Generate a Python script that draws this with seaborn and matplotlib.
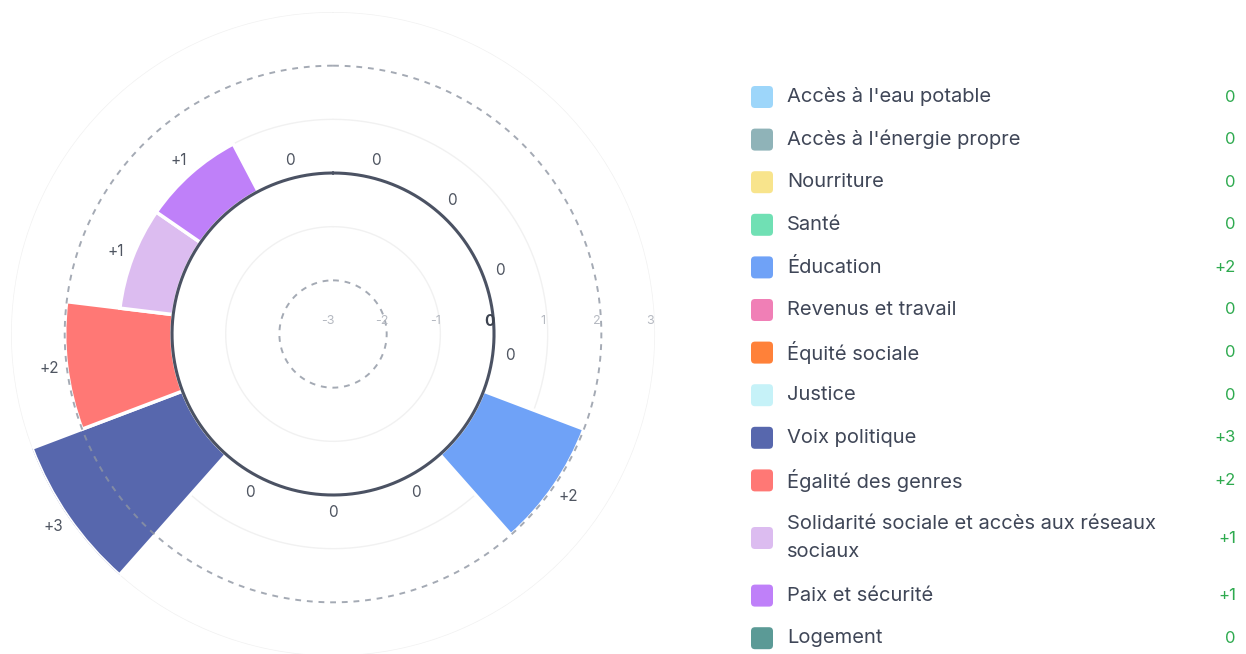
import numpy as np
import seaborn as sns
from matplotlib import pyplot as plt
from matplotlib.patches import FancyBboxPatch
from matplotlib.transforms import offset_copy

categories = [
    "Accès à l'eau potable",
    "Accès à l'énergie propre",
    "Nourriture",
    "Santé",
    "Éducation",
    "Revenus et travail",
    "Équité sociale",
    "Justice",
    "Voix politique",
    "Égalité des genres",
    "Solidarité sociale et accès aux réseaux\nsociaux",
    "Paix et sécurité",
    "Logement",
]
scores = [0, 0, 0, 0, 2, 0, 0, 0, 3, 2, 1, 1, 0]
colors = [
    "#9dd6fa", "#8fb3b8", "#f8e48c", "#70e0b4", "#6fa2f7", "#f07fb6", "#ff8139",
    "#c6f2f8", "#5767ad", "#ff7875", "#dcbcf0", "#bf80f9", "#5b9a96",
]
rings = [-3, -2, -1, 0, 1, 2, 3]

sns.set_theme(style="white")
plt.rcParams["font.family"] = ["Inter", "DejaVu Sans"]

fig = plt.figure(figsize=(12.46, 6.54), dpi=100)
ax = fig.add_axes([0.00883, -0.00306, 0.5169, 0.9847], projection="polar")
ax.set_theta_zero_location("N")
ax.set_theta_direction(-1)
ax.set_ylim(-3, 3)
ax.set_xticks([])
ax.set_yticks([])
ax.grid(False)
ax.spines["polar"].set_visible(False)

n = len(categories)
step = 2 * np.pi / n
theta = np.arange(n) * step + step / 2

# ring grid
th = np.linspace(0, 2 * np.pi, 500)
for lvl in rings[1:]:
    if lvl == 0:
        ax.plot(th, np.full_like(th, lvl), color="#4b5263", lw=2.2, zorder=5)
    elif lvl in (-2, 2):
        ax.plot(th, np.full_like(th, lvl), color="#8e95a2", lw=1.4,
                ls=(0, (3, 3)), alpha=0.8, zorder=4)
    else:
        ax.plot(th, np.full_like(th, lvl), color="#f1f1f1", lw=1.0, zorder=1)

ax.bar(theta, scores, width=step, bottom=0, color=colors,
       edgecolor="white", linewidth=2.5, zorder=3)

for t, v in zip(theta, scores):
    txt = f"+{v}" if v > 0 else str(v)
    ax.text(t, v + 0.33, txt, ha="center", va="center",
            fontsize=11, color="#4f5561", zorder=6)

# radial tick labels
tick_tr = offset_copy(ax.transData, fig=fig, x=-5, y=13, units="dots")
for lvl in rings:
    if lvl == 0:
        ax.text(np.pi / 2, lvl, "0", transform=tick_tr, ha="center", va="center",
                fontsize=11, fontweight="bold", color="#3d4350", zorder=6)
    else:
        ax.text(np.pi / 2, lvl, str(lvl), transform=tick_tr, ha="center",
                va="center", fontsize=9, color="#b5b9c1", zorder=6)

# legend on the right
lax = fig.add_axes([0, 0, 1, 1])
lax.set_xlim(0, 1246)
lax.set_ylim(654, 0)
lax.axis("off")

y = 97
for label, v, c in zip(categories, scores, colors):
    extra = label.count("\n") * 15
    y += extra
    lax.add_patch(FancyBboxPatch((751, y - 11), 22, 22,
                                 boxstyle="round,pad=0,rounding_size=4",
                                 facecolor=c, edgecolor="none"))
    lax.text(787, y, label, ha="left", va="center", fontsize=14.5,
             color="#3f4657", linespacing=1.72)
    lax.text(1236, y, f"+{v}" if v > 0 else str(v), ha="right", va="center",
             fontsize=12, color="#2eaa4f")
    y += 42.6 + extra

plt.savefig("out.png", dpi=100)
